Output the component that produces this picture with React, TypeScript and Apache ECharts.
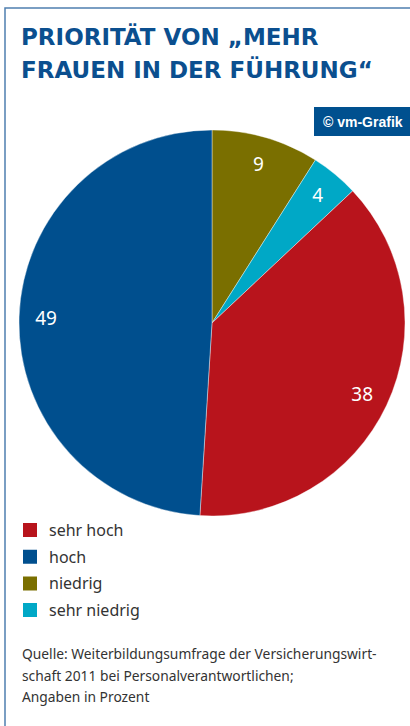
import React, { useEffect, useRef } from "react";
import * as echarts from "echarts";

const titleLines = ["PRIORITÄT VON „MEHR", "FRAUEN IN DER FÜHRUNG“"];
const categories = ["niedrig", "sehr niedrig", "sehr hoch", "hoch"];
const values = [9, 4, 38, 49];
const colors = ["#7a6f00", "#00a8c6", "#b8141c", "#004f8e"];
const legendOrder = ["sehr hoch", "hoch", "niedrig", "sehr niedrig"];
const sourceLines = [
  "Quelle: Weiterbildungsumfrage der Versicherungswirt-",
  "schaft 2011 bei Personalverantwortlichen;",
  "Angaben in Prozent",
];
const badgeText = "© vm-Grafik";

export default function App() {
  const ref = useRef<HTMLDivElement>(null);
  useEffect(() => {
    if (!ref.current) return;
    const chart = echarts.init(ref.current, undefined, { renderer: "svg" });
    const data = categories.map((c, i) => ({
      name: c,
      value: values[i],
      itemStyle: { color: colors[i] },
    }));
    chart.setOption({
      animation: false,
      backgroundColor: "#ffffff",
      legend: {
        data: legendOrder,
        orient: "vertical",
        left: 21,
        top: 521,
        padding: 0,
        itemWidth: 16,
        itemHeight: 16,
        itemGap: 8.7,
        icon: "rect",
        selectedMode: false,
        textStyle: {
          fontFamily: "Noto Sans",
          fontSize: 16,
          color: "#333333",
          padding: [0, 0, 0, 6],
        },
      },
      series: [
        {
          type: "pie",
          center: [212, 323],
          radius: [0, 193],
          startAngle: 90,
          clockwise: true,
          silent: true,
          label: { show: false },
          labelLine: { show: false },
          itemStyle: { borderColor: "#ffffff", borderWidth: 0.4 },
          data,
        },
        {
          type: "pie",
          center: [212, 323],
          radius: [133, 193],
          startAngle: 90,
          clockwise: true,
          silent: true,
          itemStyle: { color: "transparent" },
          label: {
            show: true,
            position: "inside",
            formatter: "{c}",
            color: "#ffffff",
            fontFamily: "Noto Sans",
            fontSize: 19,
          },
          labelLine: { show: false },
          data: categories.map((c, i) => ({
            name: c,
            value: values[i],
            itemStyle: { color: "transparent" },
          })),
        },
      ],
      graphic: [
        {
          type: "polyline",
          shape: { points: [[5, 726], [5, 8], [410, 8]] },
          style: { stroke: "#4f7fb0", lineWidth: 1.5, fill: null },
        },
        {
          type: "text",
          x: 21,
          y: 20.5,
          style: {
            text: titleLines.join("\n"),
            fill: "#0b4f8f",
            fontFamily: "DejaVu Sans",
            fontWeight: "bold",
            fontSize: 23,
            lineHeight: 33,
            textAlign: "left",
            textVerticalAlign: "top",
          },
        },
        {
          type: "rect",
          shape: { x: 314, y: 107, width: 96, height: 29 },
          style: { fill: "#00508f" },
        },
        {
          type: "text",
          x: 323,
          y: 121.5,
          style: {
            text: badgeText,
            fill: "#ffffff",
            fontFamily: "Liberation Sans",
            fontWeight: "bold",
            fontSize: 14,
            textAlign: "left",
            textVerticalAlign: "middle",
          },
        },
        {
          type: "text",
          x: 22,
          y: 643,
          style: {
            text: sourceLines.join("\n"),
            fill: "#333333",
            fontFamily: "Noto Sans",
            fontSize: 13.8,
            lineHeight: 21.5,
            textAlign: "left",
            textVerticalAlign: "top",
          },
        },
      ],
    });
    return () => chart.dispose();
  }, []);
  return (
    <div
      ref={ref}
      style={{ position: "fixed", left: 0, top: 0, width: 410, height: 726 }}
    />
  );
}
